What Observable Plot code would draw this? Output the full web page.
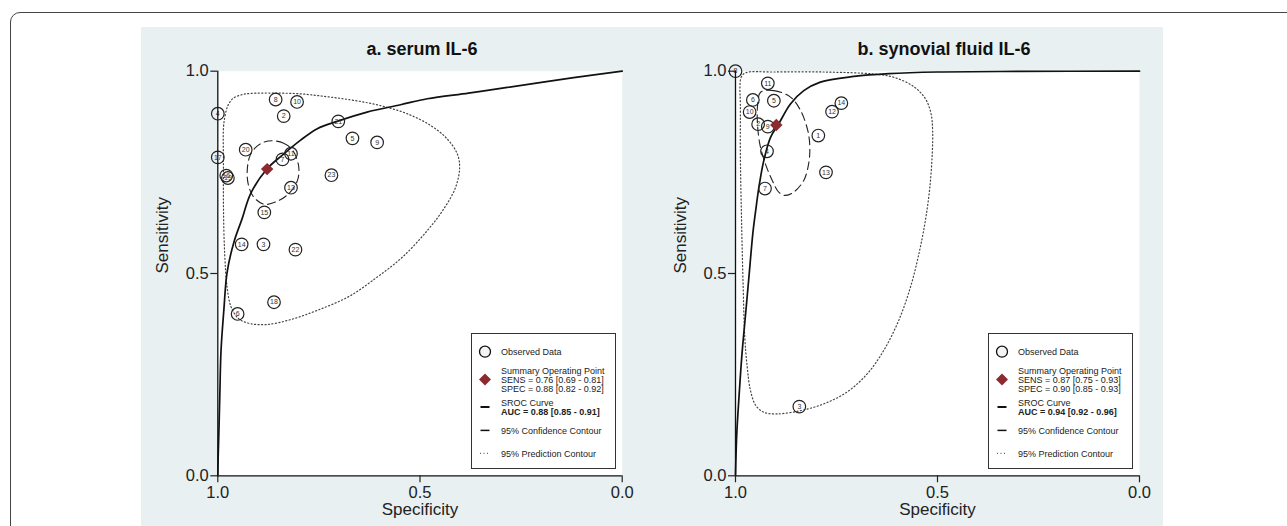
<!DOCTYPE html>
<html>
<head>
<meta charset="utf-8">
<script src="https://cdn.jsdelivr.net/npm/d3@7"></script>
<script src="https://cdn.jsdelivr.net/npm/@observablehq/plot@0.6"></script>
<style>
  html, body { margin: 0; padding: 0; background: #fff; }
  body { width: 1287px; height: 526px; overflow: hidden; position: relative; font-family: "Liberation Sans", Arial, sans-serif; }
  #frame { position: absolute; left: 10px; top: 12px; width: 1300px; height: 560px; border: 1.5px solid #444; border-radius: 10px; box-sizing: border-box; }
  #panel { position: absolute; left: 141px; top: 27px; width: 1022px; height: 520px; background: #e8f0f2; }
  .chart { position: absolute; top: 27px; }
  .title { position: absolute; top: 39px; font-size: 18px; font-weight: bold; color: #111; transform: translateX(-50%); white-space: nowrap; line-height: 20px; }
  .legend { position: absolute; background: #fff; border: 1.3px solid #333; box-sizing: border-box; width: 145px; height: 136px; }
  .legend svg { position: absolute; left: 0; top: 0; overflow: visible; }
</style>
</head>
<body>
<div id="frame"></div>
<div id="panel"></div>
<div class="title" style="left:422px">a. serum IL-6</div>
<div class="title" style="left:944px">b. synovial fluid IL-6</div>
<div id="left" class="chart" style="left:141px"></div>
<div id="right" class="chart" style="left:641px"></div>
<div id="legendA" class="legend" style="left:471px; top:333px"></div>
<div id="legendB" class="legend" style="left:988px; top:333px"></div>
<script>
// ---------- axis ticks ----------
const axisTicks = [0, 0.5, 1];

// ---------- a. serum IL-6 ----------
const serumStudy = ["8","10","2","4","21","5","9","20","11","7","17","16","19","23","13","15","14","3","22","18","6"];
const serumSpec  = [0.857,0.804,0.837,1.0,0.702,0.667,0.606,0.931,0.819,0.840,1.0,0.979,0.975,0.719,0.819,0.885,0.941,0.887,0.808,0.861,0.951];
const serumSens  = [0.930,0.924,0.889,0.895,0.876,0.834,0.824,0.806,0.796,0.782,0.787,0.742,0.736,0.743,0.712,0.651,0.572,0.572,0.559,0.429,0.400];
const serumSummarySpec = [0.878];
const serumSummarySens = [0.758];
const serumSrocSpec = [1.0,0.999,0.997,0.995,0.992,0.985,0.977,0.960,0.940,0.919,0.878,0.841,0.796,0.754,0.705,0.631,0.548,0.482,0.380,0.284,0.120,0.0];
const serumSrocSens = [0.0,0.05,0.12,0.20,0.31,0.41,0.503,0.578,0.635,0.697,0.759,0.792,0.829,0.858,0.876,0.899,0.917,0.932,0.946,0.960,0.984,1.0];
const serumConfSpec = [0.862,0.837,0.815,0.800,0.803,0.822,0.850,0.885,0.912,0.925,0.927,0.920,0.905,0.885];
const serumConfSens = [0.828,0.822,0.805,0.765,0.730,0.700,0.680,0.671,0.690,0.722,0.758,0.792,0.813,0.825];
const serumPredSpec = [0.986,0.982,0.975,0.962,0.940,0.919,0.861,0.796,0.730,0.664,0.598,0.532,0.474,0.433,0.408,0.402,0.412,0.441,0.482,0.544,0.606,0.676,0.754,0.820,0.878,0.919,0.948,0.967,0.977,0.983,0.986,0.986];
const serumPredSens = [0.860,0.890,0.915,0.933,0.942,0.945,0.946,0.944,0.937,0.928,0.915,0.895,0.866,0.833,0.796,0.763,0.713,0.660,0.606,0.540,0.491,0.443,0.409,0.386,0.374,0.376,0.388,0.417,0.466,0.549,0.664,0.779];
const serumLegend = ["Observed Data","Summary Operating Point","SENS = 0.76 [0.69 - 0.81]","SPEC = 0.88 [0.82 - 0.92]","SROC Curve","AUC = 0.88 [0.85 - 0.91]","95% Confidence Contour","95% Prediction Contour"];

// ---------- b. synovial fluid IL-6 ----------
const fluidStudy = ["8","11","6","5","10","14","12","2","9","1","4","13","7","3"];
const fluidSpec  = [1.0,0.920,0.957,0.905,0.965,0.738,0.761,0.944,0.920,0.795,0.922,0.776,0.927,0.842];
const fluidSens  = [1.0,0.970,0.929,0.927,0.899,0.921,0.900,0.869,0.863,0.841,0.802,0.750,0.710,0.171];
const fluidSummarySpec = [0.899];
const fluidSummarySens = [0.867];
const fluidSrocSpec = [1.0,0.997,0.991,0.984,0.975,0.966,0.957,0.950,0.941,0.930,0.913,0.893,0.864,0.831,0.790,0.707,0.620,0.500,0.300,0.0];
const fluidSrocSens = [0.0,0.10,0.20,0.30,0.40,0.50,0.60,0.656,0.720,0.779,0.837,0.870,0.919,0.952,0.973,0.987,0.994,0.998,0.9995,1.0];
const fluidConfSpec = [0.938,0.905,0.864,0.839,0.821,0.816,0.819,0.831,0.856,0.876,0.893,0.909,0.926,0.940,0.946,0.945];
const fluidConfSens = [0.948,0.952,0.936,0.903,0.853,0.812,0.771,0.730,0.701,0.693,0.701,0.730,0.771,0.821,0.878,0.919];
const fluidPredSpec = [0.989,0.986,0.975,0.905,0.781,0.658,0.608,0.559,0.530,0.516,0.512,0.513,0.519,0.530,0.546,0.567,0.596,0.633,0.674,0.724,0.781,0.839,0.897,0.930,0.950,0.963,0.971,0.977,0.981,0.985,0.988,0.988];
const fluidPredSens = [0.960,0.985,0.996,0.998,0.998,0.993,0.985,0.962,0.932,0.895,0.853,0.796,0.713,0.631,0.549,0.466,0.384,0.310,0.252,0.207,0.178,0.161,0.153,0.157,0.174,0.211,0.269,0.343,0.466,0.631,0.796,0.919];
const fluidLegend = ["Observed Data","Summary Operating Point","SENS = 0.87 [0.75 - 0.93]","SPEC = 0.90 [0.85 - 0.93]","SROC Curve","AUC = 0.94 [0.92 - 0.96]","95% Confidence Contour","95% Prediction Contour"];

const zipXY = (xs, ys, extra) => xs.map((x, i) => Object.assign({spec: x, sens: ys[i]}, extra ? {id: extra[i]} : {}));

function panel({study, spec, sens, sumSpec, sumSens, srocSpec, srocSens, confSpec, confSens, predSpec, predSens, marginLeft, width, marginRight}) {
  const pts = zipXY(spec, sens, study);
  const summary = zipXY(sumSpec, sumSens);
  const sroc = zipXY(srocSpec, srocSens);
  const conf = zipXY(confSpec, confSens);
  const pred = zipXY(predSpec, predSens);
  return Plot.plot({
    width, height: 499,
    marginLeft, marginRight, marginTop: 43.7, marginBottom: 50.7,
    x: {domain: [1, 0]},
    y: {domain: [0, 1]},
    style: {background: "transparent", fontFamily: "'Liberation Sans', Arial, sans-serif", fontSize: "16.5px", color: "#222", overflow: "visible"},
    marks: [
      Plot.frame({fill: "white", stroke: null}),
      Plot.line(pred, {x: "spec", y: "sens", curve: "catmull-rom-closed", stroke: "#444", strokeWidth: 1.2, strokeDasharray: "1.1,2.4"}),
      Plot.line(conf, {x: "spec", y: "sens", curve: "catmull-rom-closed", stroke: "#222", strokeWidth: 1.1, strokeDasharray: "8,4.5"}),
      Plot.line(sroc, {x: "spec", y: "sens", curve: "catmull-rom", stroke: "#111", strokeWidth: 1.7}),
      Plot.dot(pts, {x: "spec", y: "sens", r: 6.3, stroke: "#222", strokeWidth: 1.2, fill: "none"}),
      Plot.text(pts, {x: "spec", y: "sens", text: "id", fontSize: 7, fill: "#333"}),
      Plot.dot(summary, {x: "spec", y: "sens", symbol: "diamond2", r: 5.6, fill: "#8d2a2f", stroke: null}),
      Plot.ruleX([1], {stroke: "#111", strokeWidth: 1.3}),
      Plot.ruleY([0], {stroke: "#111", strokeWidth: 1.3}),
      Plot.axisX({ticks: axisTicks, tickFormat: d => d.toFixed(1), tickSize: 7, tickPadding: 3, label: null, stroke: "#222", strokeWidth: 1.2}),
      Plot.axisY({ticks: axisTicks, tickFormat: d => d.toFixed(1), tickSize: 7, tickPadding: 2, label: null, stroke: "#222", strokeWidth: 1.2}),
      Plot.text(["Sensitivity"], {frameAnchor: "left", dx: -55, rotate: -90, text: d => d, fontSize: 17, fill: "#222"}),
      Plot.text(["Specificity"], {frameAnchor: "bottom", dy: 39, text: d => d, fontSize: 17, fill: "#222"})
    ]
  });
}

document.getElementById("left").append(panel({
  study: serumStudy, spec: serumSpec, sens: serumSens,
  sumSpec: serumSummarySpec, sumSens: serumSummarySens,
  srocSpec: serumSrocSpec, srocSens: serumSrocSens,
  confSpec: serumConfSpec, confSens: serumConfSens,
  predSpec: serumPredSpec, predSens: serumPredSens,
  width: 500, marginLeft: 76.3, marginRight: 19.3
}));
document.getElementById("right").append(panel({
  study: fluidStudy, spec: fluidSpec, sens: fluidSens,
  sumSpec: fluidSummarySpec, sumSens: fluidSummarySens,
  srocSpec: fluidSrocSpec, srocSens: fluidSrocSens,
  confSpec: fluidConfSpec, confSens: fluidConfSens,
  predSpec: fluidPredSpec, predSens: fluidPredSens,
  width: 522, marginLeft: 94, marginRight: 24
}));

function legend(el, labels) {
  const tx = 29;
  const t = (y, s, bold) => `<text x="${tx}" y="${y}" dy="0.35em" font-size="9" fill="#222"${bold ? ' font-weight="bold"' : ''}>${s}</text>`;
  el.innerHTML = `<svg width="145" height="136" font-family="'Liberation Sans', Arial, sans-serif">
    <circle cx="13" cy="17.7" r="5.5" fill="#f4f4f4" stroke="#111" stroke-width="1.3"/>
    ${t(17.7, labels[0])}
    <path d="M13,39.4 L19,45.4 L13,51.4 L7,45.4 Z" fill="#8d2a2f"/>
    ${t(36.4, labels[1])}${t(45.4, labels[2])}${t(54.4, labels[3])}
    <line x1="8.5" x2="17.5" y1="73" y2="73" stroke="#111" stroke-width="2"/>
    ${t(68.4, labels[4])}${t(77.4, labels[5], true)}
    <line x1="8.5" x2="17.5" y1="96.4" y2="96.4" stroke="#111" stroke-width="1.5"/>
    ${t(96.4, labels[6])}
    <line x1="8" x2="18" y1="119.4" y2="119.4" stroke="#666" stroke-width="1.2" stroke-dasharray="1,2.5"/>
    ${t(119.4, labels[7])}
  </svg>`;
}
legend(document.getElementById("legendA"), serumLegend);
legend(document.getElementById("legendB"), fluidLegend);
</script>
</body>
</html>
